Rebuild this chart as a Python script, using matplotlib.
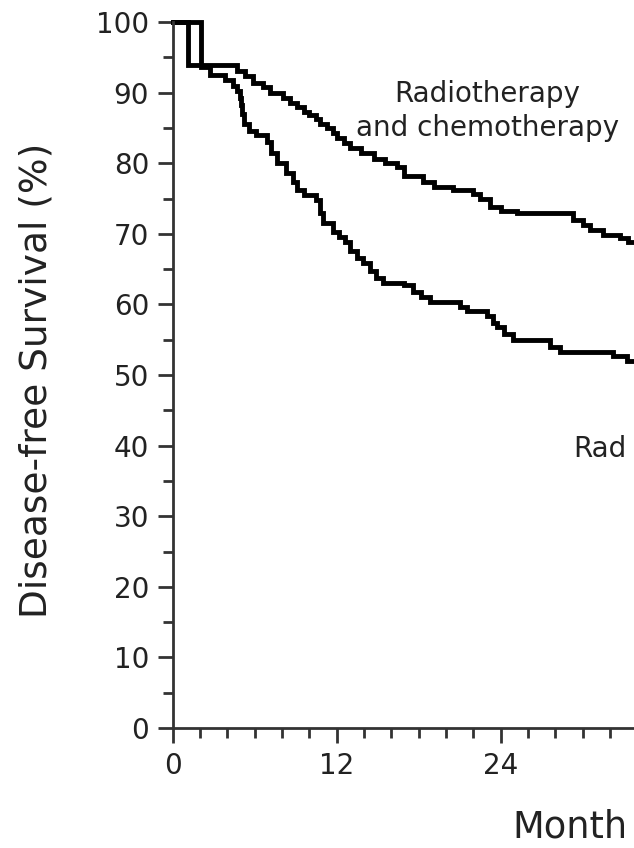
import matplotlib
matplotlib.use("Agg")
import matplotlib.pyplot as plt
from matplotlib.ticker import MultipleLocator

# Data
chemo_t = [0, 1.1, 4.7, 5.3, 5.9, 6.6, 7.1, 8.1, 8.6, 9.1, 9.6, 10.0, 10.5, 10.8, 11.3,
           11.7, 12.0, 12.5, 13.0, 13.8, 14.7, 15.5, 16.4, 16.9, 18.3, 19.1, 20.5, 22.0,
           22.5, 23.2, 24.0, 25.2, 29.3, 30.0, 30.5, 31.5, 32.7, 33.3, 34.0]
chemo_s = [100, 93.9, 93.0, 92.3, 91.4, 90.8, 89.9, 89.2, 88.5, 88.0, 87.3, 86.8, 86.2, 85.6, 85.0,
           84.3, 83.6, 82.8, 82.2, 81.4, 80.6, 80.0, 79.5, 78.2, 77.4, 76.6, 76.2, 75.6,
           74.9, 73.8, 73.3, 72.9, 72.0, 71.2, 70.6, 69.9, 69.4, 68.9, 68.9]

radio_t = [0, 2.1, 2.7, 3.8, 4.4, 4.7, 4.9, 5.0, 5.1, 5.2, 5.6, 6.1, 6.9, 7.2, 7.6, 8.3, 8.8,
           9.1, 9.6, 10.5, 10.8, 11.0, 11.7, 12.2, 12.6, 13.0, 13.5, 13.9, 14.4, 14.9, 15.4,
           16.9, 17.6, 18.2, 18.8, 21.0, 21.5, 23.0, 23.4, 23.7, 24.2, 24.9, 27.6, 28.3,
           32.2, 33.2, 34.0]
radio_s = [100, 93.6, 92.5, 91.8, 91.0, 90.2, 89.2, 88.3, 87.0, 85.5, 84.6, 84.0, 83.0, 81.5, 80.0, 78.6, 77.3,
           76.2, 75.5, 74.8, 73.0, 71.5, 70.3, 69.6, 68.8, 67.6, 66.6, 65.8, 64.8, 63.8, 63.0,
           62.7, 61.8, 61.0, 60.4, 59.6, 59.0, 58.3, 57.4, 56.8, 55.8, 54.9, 54.0, 53.3,
           52.7, 52.0, 52.0]

x_major = [0, 12, 24]
y_major = [0, 10, 20, 30, 40, 50, 60, 70, 80, 90, 100]

W, H = 634, 848
fig = plt.figure(figsize=(W / 100, H / 100), dpi=100)
ax = fig.add_axes([172.7 / W, (H - 728) / H, 1 - 172.7 / W, (728 - 22) / H])
ax.set_xlim(0, (W - 172.7) / 13.67)
ax.set_ylim(0, 100)

lc = "black"
ax.step(chemo_t, chemo_s, where="post", color=lc, lw=3.5, clip_on=False, solid_joinstyle="miter")
ax.step(radio_t, radio_s, where="post", color=lc, lw=3.5, clip_on=False, solid_joinstyle="miter")

for s in ["top", "right"]:
    ax.spines[s].set_visible(False)
for s in ["left", "bottom"]:
    ax.spines[s].set_linewidth(2.0)
    ax.spines[s].set_color("#333333")

ax.set_xticks(x_major)
ax.set_xticklabels([str(v) for v in x_major])
ax.xaxis.set_minor_locator(MultipleLocator(2))
ax.set_yticks(y_major)
ax.set_yticklabels([str(v) for v in y_major])
ax.yaxis.set_minor_locator(MultipleLocator(5))

tc = "#222222"
ax.tick_params(axis="both", which="major", length=11, width=2.0, color="#333333",
               labelsize=20, labelcolor=tc, direction="out")
ax.tick_params(axis="both", which="minor", length=7, width=2.0, color="#333333", direction="out")
ax.tick_params(axis="x", which="major", pad=6)
ax.tick_params(axis="y", which="major", pad=6)

fig.text(37 / W, 1 - 380 / H, "Disease-free Survival (%)", rotation=90, ha="center",
         va="center", fontsize=27, color=tc)
fig.text(487 / W, 1 - 102 / H, "Radiotherapy", ha="center", va="baseline", fontsize=20, color=tc)
fig.text(487 / W, 1 - 136 / H, "and chemotherapy", ha="center", va="baseline", fontsize=20, color=tc)
fig.text(573 / W, 1 - 457 / H, "Rad", ha="left", va="baseline", fontsize=20, color=tc)
fig.text(512 / W, 1 - 846 / H, "Month", ha="left", va="bottom", fontsize=26.5, color=tc)

fig.savefig("out.png", dpi=100)
